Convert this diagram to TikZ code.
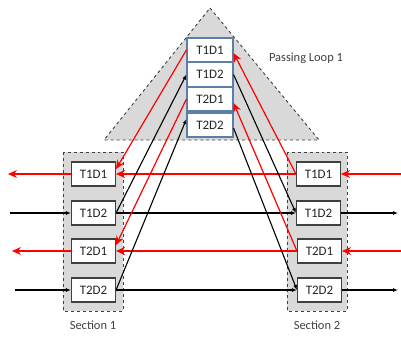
\documentclass[tikz,border=0pt]{standalone}
\usepackage{fontspec}
\setmainfont{Carlito}
\usetikzlibrary{arrows.meta}
\definecolor{shade}{HTML}{D9D9D9}
\definecolor{dashc}{HTML}{404040}
\definecolor{loopb}{HTML}{5B7FA8}
\definecolor{txt}{HTML}{262626}
\definecolor{lbl}{HTML}{404040}
\tikzset{
  region/.style={draw=dashc, fill=shade, dashed, line width=0.9bp},
  loopbox/.style={draw=loopb, fill=white, line width=1.1bp, minimum width=46bp, minimum height=24bp, inner sep=0pt, text=txt, font=\fontsize{13}{15}\selectfont},
  secbox/.style={draw=dashc, fill=white, line width=1.1bp, minimum width=44bp, minimum height=24bp, inner sep=0pt, text=txt, font=\fontsize{13}{15}\selectfont},
  redarr/.style={draw=red, line width=1.2bp, -{Stealth[length=9bp,width=8bp,inset=3bp]}},
  blkarr/.style={draw=black, line width=1.1bp, -{Latex[length=5bp,width=4bp]}},
  lbltext/.style={text=lbl, font=\fontsize{12.5}{14}\selectfont, inner sep=0pt}
}
\begin{document}
\begin{tikzpicture}[x=1bp,y=-1bp]
\useasboundingbox (0,0) rectangle (401,337);
% regions
\draw[region] (210,8) -- (319,140) -- (104,140) -- cycle;
\draw[region] (63,152) rectangle (123,311);
\draw[region] (287,152) rectangle (347,311);
% nodes
\node[loopbox] (l1) at (210,50) {T1D1};
\node[loopbox] (l2) at (210,74.5) {T1D2};
\node[loopbox] (l3) at (210,99) {T2D1};
\node[loopbox] (l4) at (210,125) {T2D2};
\node[secbox] (s1a) at (93.5,174) {T1D1};
\node[secbox] (s1b) at (93.5,213) {T1D2};
\node[secbox] (s1c) at (93.5,251) {T2D1};
\node[secbox] (s1d) at (93.5,290) {T2D2};
\node[secbox] (s2a) at (318.5,174) {T1D1};
\node[secbox] (s2b) at (318.5,213) {T1D2};
\node[secbox] (s2c) at (319.5,251) {T2D1};
\node[secbox] (s2d) at (319.5,290) {T2D2};
\node[lbltext] (lp) at (306,58) {Passing Loop 1};
\node[lbltext] (sl1) at (93,325) {Section 1};
\node[lbltext] (sl2) at (317,325) {Section 2};
% free ends
\coordinate (ra1) at (401,174);
\coordinate (la1) at (8,174);
\coordinate (lb1) at (10,213);
\coordinate (rb1) at (398,213);
\coordinate (ra2) at (401,251);
\coordinate (la2) at (12,251);
\coordinate (lb2) at (15,290);
\coordinate (rb2) at (398,290);
% horizontal rows
\draw[redarr] (ra1) -- (s2a.east);
\draw[redarr] (s2a.west) -- (s1a.east);
\draw[redarr] (s1a.west) -- (la1);
\draw[blkarr] (lb1) -- (s1b.west);
\draw[blkarr] (s1b.east) -- (s2b.west);
\draw[blkarr] (s2b.east) -- (rb1);
\draw[redarr] (ra2) -- (s2c.east);
\draw[redarr] (s2c.west) -- (s1c.east);
\draw[redarr] (s1c.west) -- (la2);
\draw[blkarr] (lb2) -- (s1d.west);
\draw[blkarr] (s1d.east) -- (s2d.west);
\draw[blkarr] (s2d.east) -- (rb2);
% diagonals, left
\draw[redarr] (l1.west) -- ([yshift=5bp]s1a.east);
\draw[blkarr] (s1b.east) -- (l2.west);
\draw[redarr] (l3.west) -- ([yshift=6bp]s1c.east);
\draw[blkarr] (s1d.east) -- ([yshift=6bp]l4.west);
% diagonals, right
\draw[redarr] (s2a.west) -- ([yshift=-3bp]l1.east);
\draw[blkarr] (l2.east) -- (s2b.west);
\draw[redarr] (s2c.west) -- ([yshift=-4bp]l3.east);
\draw[blkarr] ([yshift=-3bp]l4.east) -- (s2d.west);
\end{tikzpicture}
\end{document}
